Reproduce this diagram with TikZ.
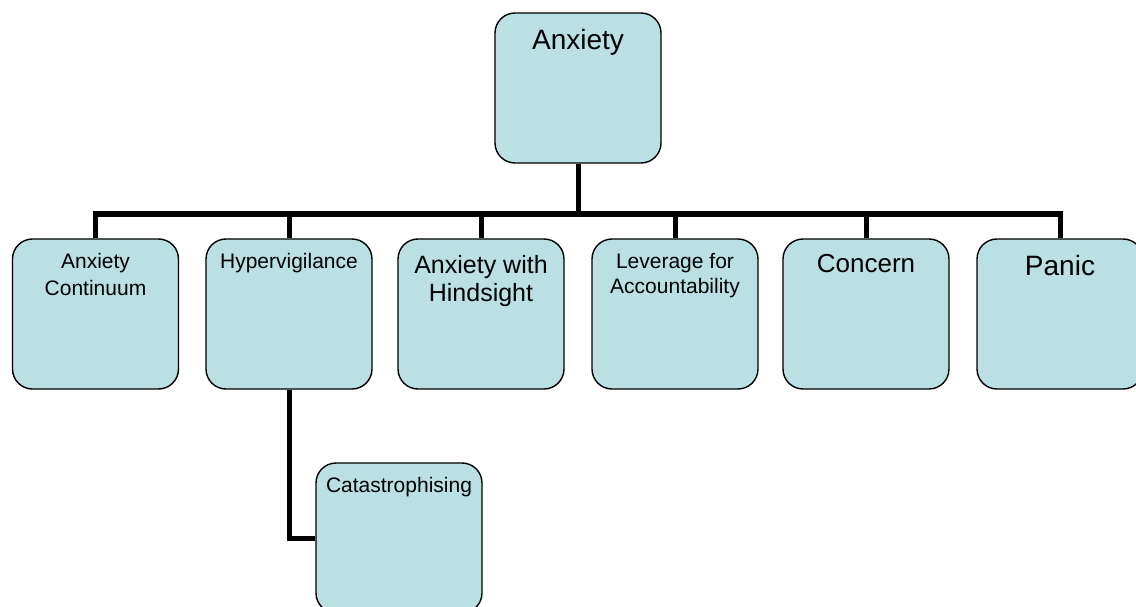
\documentclass[tikz,border=0pt]{standalone}
\usepackage{fontspec}
\setmainfont{Liberation Sans}
\usetikzlibrary{backgrounds}
\definecolor{boxfill}{RGB}{187,224,227}
\tikzset{
  box/.style={draw=black, line width=1.4pt, fill=boxfill, rounded corners=20pt,
              minimum width=166pt, minimum height=150pt, inner sep=0pt},
  conn/.style={draw=black, line width=5pt},
  lbl/.style={anchor=north, inner sep=0pt, align=center, text=black},
}
\newcommand{\fs}[2]{\fontsize{#1pt}{#2pt}\selectfont}
\begin{document}
\begin{tikzpicture}[x=1pt,y=-1pt]
  \useasboundingbox (0,0) rectangle (1136,607);
  \clip (0,0) rectangle (1136,607);

  % bus level
  \coordinate (bus) at (0,214);

  % boxes
  \node[box] (root) at (578,88) {};
  \node[box] (b1) at (95.5,314) {};
  \node[box] (b2) at (289,314) {};
  \node[box] (b3) at (481,314) {};
  \node[box] (b4) at (675,314) {};
  \node[box] (b5) at (866,314) {};
  \node[box] (b6) at (1060,314) {};
  \node[box] (cat) at (399,538) {};

  % labels
  \node[lbl, font=\fs{28}{32}] (t-root) at (578,29) {Anxiety};
  \node[lbl, font=\fs{21}{27}] (t-b1) at (95.5,253) {Anxiety\\Continuum};
  \node[lbl, font=\fs{21}{25}] (t-b2) at (289,253) {Hypervigilance};
  \node[lbl, font=\fs{25}{28}] (t-b3) at (481,255) {Anxiety with\\Hindsight};
  \node[lbl, font=\fs{21}{25}] (t-b4) at (675,253) {Leverage for\\Accountability};
  \node[lbl, font=\fs{26}{30}] (t-b5) at (866,254) {Concern};
  \node[lbl, font=\fs{28}{32}] (t-b6) at (1060,255) {Panic};
  \node[lbl, font=\fs{21}{25}] (t-cat) at (399,477) {Catastrophising};

  % connectors, behind the boxes
  \begin{pgfonlayer}{background}
    \fill[white] (0,0) rectangle (1136,607);
    \draw[conn] (root.south) -- (root.south |- bus);
    \draw[conn] (b1.north) |- (b6.north |- bus) -- (b6.north);
    \foreach \n in {b2,b3,b4,b5} \draw[conn] (\n.north) -- (\n.north |- bus);
    \draw[conn] (b2.south) |- (cat.west);
  \end{pgfonlayer}
\end{tikzpicture}
\end{document}
